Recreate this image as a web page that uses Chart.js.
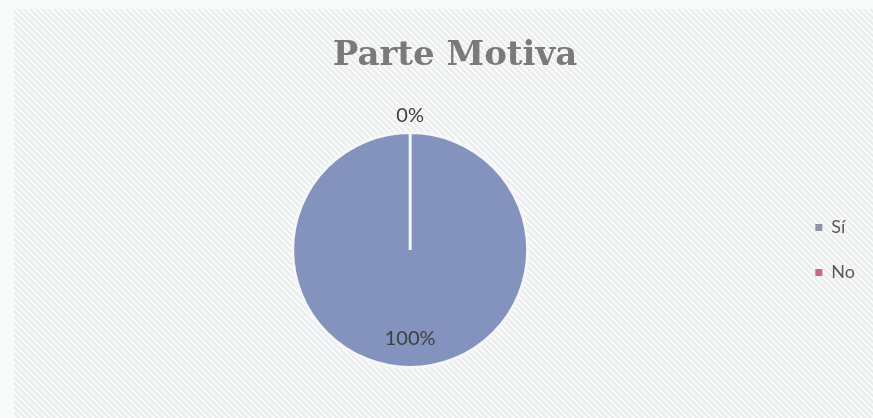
<!DOCTYPE html>
<html>
<head>
<meta charset="utf-8">
<script src="https://cdn.jsdelivr.net/npm/chart.js@4/dist/chart.umd.min.js"></script>
<style>
  html, body { margin: 0; padding: 0; background: #f8fafb; }
  #wrap { width: 873px; height: 418px; }
</style>
</head>
<body>
<div id="wrap"><canvas id="pieChart" width="873" height="418"></canvas></div>
<script>
// Parte Motiva pie

const chartTitle = 'Parte Motiva';
const categories = ['Sí', 'No'];
const percents = [100, 0];
const sliceColors = ['#8393be', '#c8647c'];
const legendColors = ['#8e94a6', '#c86a82'];

// hatched panel behind the chart
function makeHatch() {
    const c = document.createElement('canvas');
    c.width = 6; c.height = 6;
    const g = c.getContext('2d');
    g.fillStyle = '#eaecee';
    g.fillRect(0, 0, 6, 6);
    g.strokeStyle = '#fcfdfd';
    g.lineWidth = 1.8;
    g.beginPath();
    g.moveTo(-1, -1); g.lineTo(7, 7);
    g.moveTo(-4, 2); g.lineTo(4, 10);
    g.moveTo(2, -4); g.lineTo(10, 4);
    g.stroke();
    return c;
}

const panelBg = {
    id: 'panelBg',
    beforeDraw(chart) {
        const ctx = chart.ctx;
        ctx.save();
        ctx.fillStyle = '#f8fafb';
        ctx.fillRect(0, 0, chart.width, chart.height);
        ctx.fillStyle = ctx.createPattern(makeHatch(), 'repeat');
        ctx.fillRect(14, 9, chart.width - 14, chart.height - 9);
        ctx.restore();
    }
};

const titleText = {
    id: 'titleText',
    afterDraw(chart) {
        const ctx = chart.ctx;
        ctx.save();
        ctx.font = 'bold 34px "DejaVu Serif"';
        ctx.fillStyle = '#7a7a7a';
        ctx.textAlign = 'center';
        ctx.textBaseline = 'alphabetic';
        ctx.fillText(chartTitle, 455, 65);
        ctx.restore();
    }
};

const pctLabels = {
    id: 'pctLabels',
    afterDatasetsDraw(chart) {
        const ctx = chart.ctx;
        const meta = chart.getDatasetMeta(0);
        ctx.save();
        ctx.font = '20px Lato';
        ctx.fillStyle = '#404040';
        ctx.textAlign = 'center';
        ctx.textBaseline = 'middle';
        meta.data.forEach((arc, i) => {
            const p = arc.getProps(['x', 'y', 'startAngle', 'endAngle', 'outerRadius'], true);
            const mid = (p.startAngle + p.endAngle) / 2;
            const r = percents[i] === 0 ? p.outerRadius + 17 : p.outerRadius * 0.75;
            ctx.fillText(percents[i] + '%', p.x + Math.cos(mid) * r, p.y + Math.sin(mid) * r);
        });
        ctx.restore();
    }
};

new Chart(document.getElementById('pieChart').getContext('2d'), {
    type: 'pie',
    data: {
        labels: categories,
        datasets: [{
            data: percents,
            backgroundColor: sliceColors,
            borderColor: '#f4f6f8',
            borderWidth: 3
        }]
    },
    options: {
        responsive: false,
        animation: false,
        layout: { padding: { top: 131, bottom: 49, left: 32, right: 8 } },
        plugins: {
            title: { display: false },
            tooltip: { enabled: false },
            legend: {
                position: 'right',
                labels: {
                    boxWidth: 7,
                    boxHeight: 7,
                    padding: 27,
                    color: '#595959',
                    font: { family: 'Lato', size: 18 },
                    generateLabels(chart) {
                        return Chart.overrides.pie.plugins.legend.labels.generateLabels(chart).map((item, i) => {
                            item.fillStyle = legendColors[i];
                            item.lineWidth = 0;
                            item.strokeStyle = 'transparent';
                            return item;
                        });
                    }
                }
            }
        }
    },
    plugins: [panelBg, pctLabels, titleText]
});
</script>
</body>
</html>
